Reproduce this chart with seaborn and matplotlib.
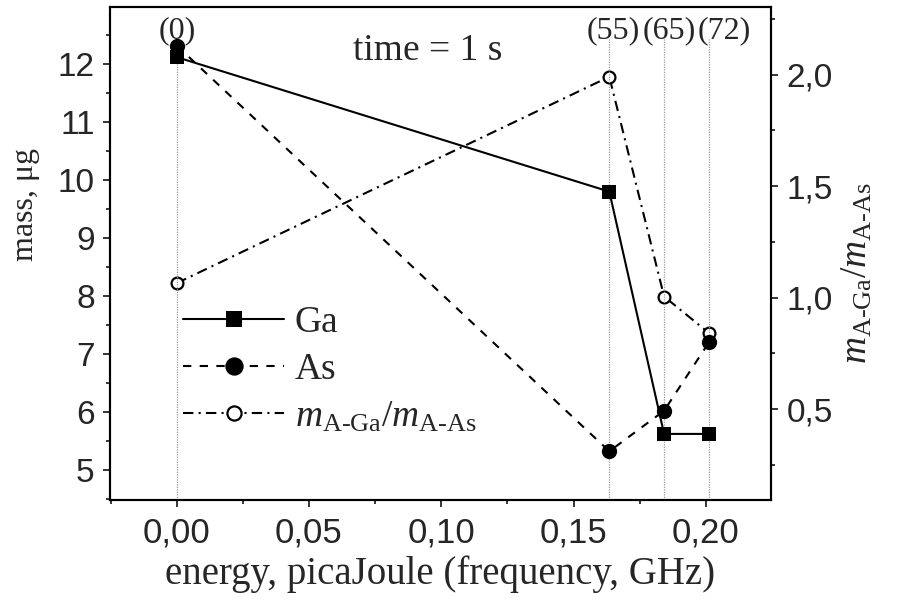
import numpy as np
import pandas as pd
import matplotlib
matplotlib.use("Agg")
import matplotlib.pyplot as plt
import matplotlib.transforms as mtransforms
from matplotlib.ticker import MultipleLocator, FuncFormatter
import seaborn as sns

# ---- data ----
energy = [0.0, 0.1635, 0.1842, 0.2013]
ga_mass = [12.12, 9.80, 5.62, 5.62]
as_mass = [12.32, 5.32, 6.02, 7.21]
ratio = [1.065, 1.99, 1.005, 0.84]
freq_labels = ["(0)", "(55)", "(65)", "(72)"]

sns.set_theme(style="white")
plt.rcParams["font.family"] = ["Liberation Serif", "DejaVu Serif"]
plt.rcParams["mathtext.fontset"] = "custom"
plt.rcParams["mathtext.rm"] = "Liberation Serif"
plt.rcParams["mathtext.it"] = "Liberation Serif:italic"
plt.rcParams["axes.unicode_minus"] = False

df = pd.DataFrame({"energy": energy, "Ga": ga_mass, "As": as_mass, "ratio": ratio})

fig = plt.figure(figsize=(8.98, 6.01), dpi=100)
ax = fig.add_axes([110 / 898, 1 - 500 / 601, (771 - 110) / 898, (500 - 6.7) / 601])
ax2 = ax.twinx()

# vertical guide lines
for xv in energy:
    ax.axvline(xv, ymin=0, ymax=0.935, color="#9a9a9a", lw=0.9, ls=(0, (1, 1)), zorder=0)

sns.lineplot(data=df, x="energy", y="Ga", ax=ax, color="black", lw=1.5, marker="s",
             markersize=10, markeredgewidth=0, sort=False, errorbar=None, label="Ga",
             legend=False, zorder=3)
sns.lineplot(data=df, x="energy", y="As", ax=ax, color="black", lw=1.5, marker="o",
             markersize=11, markeredgewidth=0, sort=False, errorbar=None, label="As",
             legend=False, linestyle=(0, (4, 4)), zorder=3)
sns.lineplot(data=df, x="energy", y="ratio", ax=ax2, color="black", lw=1.5, marker="o",
             markersize=8.5, markeredgewidth=1.6, markerfacecolor="white",
             markeredgecolor="black", sort=False, errorbar=None,
             label=r"$m_{\text{A-Ga}}/m_{\text{A-As}}$", legend=False,
             linestyle=(0, (5, 2.5, 1, 2.5)), zorder=3)

ax.set_xlim(-0.0252, 0.2246)
ax.set_ylim(4.48, 12.99)
ax2.set_ylim(0.093, 2.304)

comma = FuncFormatter(lambda v, p: f"{v:.2f}".replace(".", ","))
ax.xaxis.set_major_locator(MultipleLocator(0.05))
ax.xaxis.set_minor_locator(MultipleLocator(0.025))
ax.xaxis.set_major_formatter(comma)
ax.yaxis.set_major_locator(MultipleLocator(1))
ax.yaxis.set_minor_locator(MultipleLocator(0.5))
ax2.yaxis.set_major_locator(MultipleLocator(0.5))
ax2.yaxis.set_minor_locator(MultipleLocator(0.25))
ax2.yaxis.set_major_formatter(FuncFormatter(lambda v, p: f"{v:.1f}".replace(".", ",")))

for a in (ax, ax2):
    a.tick_params(which="major", direction="out", length=5, width=1.1, color="black", pad=6)
    a.tick_params(which="minor", direction="out", length=3, width=1.1, color="black")
    for s in a.spines.values():
        s.set_linewidth(1.5)
        s.set_color("black")
ax.tick_params(axis="y", which="both", left=True, right=False)
ax.tick_params(axis="x", which="both", bottom=True, top=False)
ax.tick_params(axis="x", which="major", pad=7)
ax2.tick_params(axis="y", which="both", right=True, left=False)
for lab in ax.get_xticklabels() + ax.get_yticklabels() + ax2.get_yticklabels():
    lab.set_fontfamily("Liberation Sans")
    lab.set_fontsize(24)
for lab in ax.get_xticklabels():
    lab.set_fontsize(25)

ax.set_xlabel("energy, picaJoule (frequency, GHz)", fontsize=28, labelpad=4)
ax.set_ylabel("mass, μg", fontsize=23)
ax.yaxis.set_label_coords(-0.106, 0.6)
ax2.set_ylabel(r"$m_{\text{A-Ga}}/m_{\text{A-As}}$", fontsize=27)
ax2.yaxis.set_label_coords(1.105, 0.46)

# frequency annotations
trans = mtransforms.blended_transform_factory(ax.transData, ax.transAxes)
offsets = [1, 4, 5, 15]
for xv, lab, off in zip(energy, freq_labels, offsets):
    ax.annotate(lab, xy=(xv, 0.951), xycoords=trans, xytext=(off * 0.72, 0),
                textcoords="offset points", ha="center", va="center", fontsize=23)

ax.text(0.48, 0.91, "time = 1 s", transform=ax.transAxes, ha="center", va="center",
        fontsize=27)

h1, l1 = ax.get_legend_handles_labels()
h2, l2 = ax2.get_legend_handles_labels()
leg = fig.legend(h1 + h2, l1 + l2, loc="upper left",
                 bbox_to_anchor=(183 / 898, 1 - 306 / 601), frameon=False,
                 fontsize=27, handlelength=2.7, handletextpad=0.28, labelspacing=0.33,
                 borderpad=0, borderaxespad=0, markerscale=1.2)

ax.set_zorder(ax2.get_zorder() + 1)
ax.patch.set_visible(False)

fig.savefig("out.png", dpi=100)
